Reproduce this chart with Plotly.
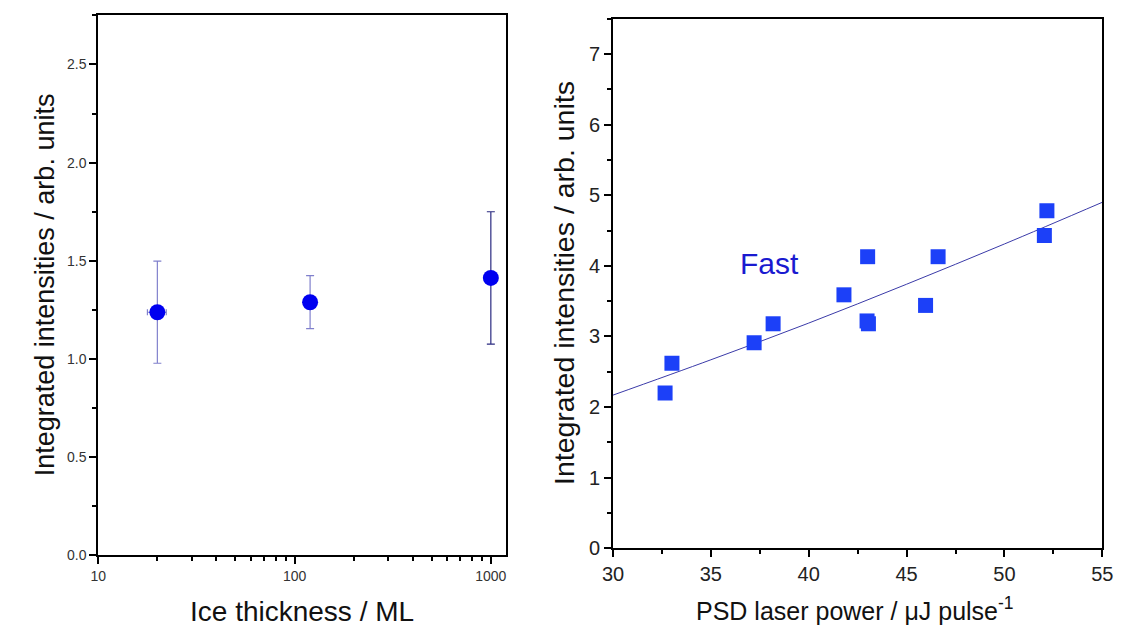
import plotly.graph_objects as go

# ---- Left panel data: integrated intensity vs ice thickness ----
thickness = [20, 120, 1000]
intensity_thick = [1.238, 1.289, 1.413]
intensity_err = [0.26, 0.135, 0.337]
thickness_err = [2.2, 0, 0]
err_colors = ["#8080cc", "#8080cc", "#2a2a80"]

# ---- Right panel data: integrated intensity vs laser power ----
laser_power = [32.66, 33.01, 37.21, 38.18, 41.80, 43.01, 42.98, 43.05, 45.97, 46.61, 52.04, 52.17]
intensity_fast = [2.20, 2.62, 2.91, 3.18, 3.59, 4.13, 3.22, 3.18, 3.44, 4.13, 4.43, 4.78]

# fit curve values
fit_power = [30, 35, 40, 45, 50, 55]
fit_intensity = [2.17, 2.67, 3.19, 3.74, 4.31, 4.90]

left_yticks = [0.0, 0.5, 1.0, 1.5, 2.0, 2.5]
left_xticks = [10, 100, 1000]
right_yticks = [0, 1, 2, 3, 4, 5, 6, 7]
right_xticks = [30, 35, 40, 45, 50, 55]

FONT = "Arial, Liberation Sans, sans-serif"
W, H = 1128, 637

fig = go.Figure()

for i in range(len(thickness)):
    fig.add_trace(go.Scatter(
        x=[thickness[i]], y=[intensity_thick[i]], mode="markers",
        marker=dict(symbol="circle", size=16, color="#0000f0", line=dict(width=0)),
        error_y=dict(type="data", array=[intensity_err[i]], color=err_colors[i], thickness=1.2, width=4),
        error_x=dict(type="data", array=[thickness_err[i]], color=err_colors[i], thickness=1.2, width=3,
                     visible=thickness_err[i] > 0),
        xaxis="x", yaxis="y", showlegend=False))

fig.add_trace(go.Scatter(
    x=fit_power, y=fit_intensity, mode="lines", line=dict(color="#3a3aa8", width=1, shape="spline"),
    xaxis="x2", yaxis="y2", showlegend=False))

fig.add_trace(go.Scatter(
    x=laser_power, y=intensity_fast, mode="markers",
    marker=dict(symbol="square", size=15, color="#1c40f8", line=dict(width=0)),
    xaxis="x2", yaxis="y2", showlegend=False))

axis_common = dict(showline=True, linecolor="black", linewidth=2, mirror=True,
                   showgrid=False, zeroline=False, ticks="outside", tickcolor="black",
                   tickwidth=1.5, ticklen=7)

fig.update_layout(
    width=W, height=H,
    margin=dict(l=0, r=0, t=0, b=0),
    paper_bgcolor="white", plot_bgcolor="white",
    font=dict(family=FONT, color="black"),
    xaxis=dict(axis_common, type="log", domain=[89/W, 505/W], range=[1, 3.078],
               anchor="y", tickvals=left_xticks, ticktext=[str(v) for v in left_xticks],
               tickfont=dict(size=14, color="#333333"),
               minor=dict(ticks="outside", ticklen=4, tickcolor="black", tickwidth=1.5, dtick="D1")),
    yaxis=dict(axis_common, domain=[(H-565)/H, (H-15.7)/H], range=[0, 2.75],
               anchor="x", tickvals=left_yticks, ticktext=["%.1f" % v for v in left_yticks],
               tickfont=dict(size=14, color="#333333"),
               minor=dict(ticks="outside", ticklen=4, tickcolor="black", tickwidth=1.5, dtick=0.25)),
    xaxis2=dict(axis_common, domain=[614/W, 1113/W], range=[30, 55], anchor="y2",
                tickvals=right_xticks, tickfont=dict(size=20, color="#222222"),
                minor=dict(ticks="outside", ticklen=4, tickcolor="black", tickwidth=1.5, dtick=2.5)),
    yaxis2=dict(axis_common, domain=[(H-558)/H, (H-19)/H], range=[0, 7.5], anchor="x2",
                tickvals=right_yticks, tickfont=dict(size=20, color="#222222"),
                minor=dict(ticks="outside", ticklen=4, tickcolor="black", tickwidth=1.5, dtick=0.5)),
)

annotations = [
    dict(text="Integrated intensities / arb. units", xref="paper", yref="paper",
         x=35/W, y=(H-290)/H, textangle=-90, showarrow=False,
         font=dict(size=27, family=FONT, color="#111111"), xanchor="center", yanchor="middle"),
    dict(text="Ice thickness / ML", xref="paper", yref="paper",
         x=297/W, y=(H-622)/H, showarrow=False,
         font=dict(size=28, family=FONT, color="#111111"), xanchor="center", yanchor="middle"),
    dict(text="Integrated intensities / arb. units", xref="paper", yref="paper",
         x=564/W, y=(H-288)/H, textangle=-90, showarrow=False,
         font=dict(size=28.5, family=FONT, color="#111111"), xanchor="center", yanchor="middle"),
    dict(text="PSD laser power / \u03bcJ pulse<sup>-1</sup>", xref="paper", yref="paper",
         x=861/W, y=(H-620)/H, showarrow=False,
         font=dict(size=25, family=FONT, color="#111111"), xanchor="center", yanchor="middle"),
    dict(text="Fast", xref="x2", yref="y2", x=38.0, y=4.03, showarrow=False,
         font=dict(size=30, family=FONT, color="#1a1ad0"), xanchor="center", yanchor="middle"),
]
fig.update_layout(annotations=annotations)

fig.write_html("out.html",
               post_script="document.body.style.margin='0';document.body.style.overflow='hidden';"
                           "document.documentElement.style.overflow='hidden';")
